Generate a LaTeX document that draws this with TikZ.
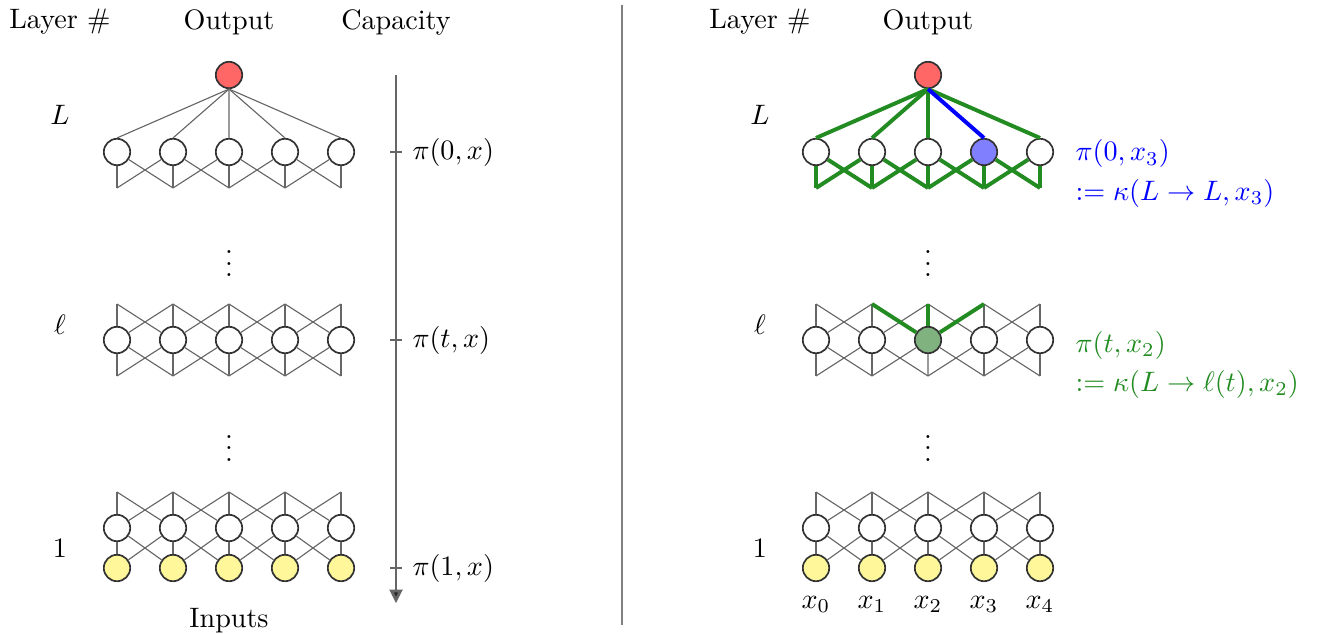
\documentclass[tikz,border=0pt]{standalone}
\usetikzlibrary{arrows.meta}
\definecolor{forest}{RGB}{34,139,34}
\definecolor{pale}{RGB}{255,247,153}
\definecolor{sage}{RGB}{128,178,128}
\tikzset{
  unit/.style={circle, draw=black!80, fill=white, semithick, minimum size=0.33cm, inner sep=0pt},
  link/.style={draw=black!60, thin},
  hot/.style={draw=forest, line width=1.4pt},
}
\begin{document}
\begin{tikzpicture}
  \useasboundingbox (0,0) rectangle (16.55,-7.9125);
  \draw
    (0.75,-0.275) node (lhead){Layer \#}
    (2.8625,-0.275) node (lout){Output}
    (4.95,-0.275) node (lcap){Capacity}
    (0.75,-1.44) node (lL){$L$}
    (0.75,-4.06) node (ll){$\ell$}
    (0.75,-6.85) node (l1){1}
    (2.8625,-3.19) node (ldot1){$\vdots$}
    (2.8625,-5.5) node (ldot2){$\vdots$}
    (2.8625,-7.76) node (lin){Inputs};
  \draw
    (9.5,-0.275) node (rhead){Layer \#}
    (11.6,-0.275) node (rout){Output}
    (9.5,-1.44) node (rL){$L$}
    (9.5,-4.06) node (rl){$\ell$}
    (9.5,-6.85) node (r1){1}
    (11.6,-3.19) node (rdot1){$\vdots$}
    (11.6,-5.5) node (rdot2){$\vdots$};
  \draw[black!50] (7.775,-0.06) -- (7.775,-7.81);

  \node[unit, fill=red!60] (lO) at (2.8625,-0.9375) {};
  \foreach \i in {0,...,4} {
    \node[unit] (lA\i) at ({1.4625+0.7*\i},-1.9) {};
    \node[unit] (lB\i) at ({1.4625+0.7*\i},-4.25) {};
    \node[unit] (lC\i) at ({1.4625+0.7*\i},-6.6) {};
    \node[unit, fill=pale] (lD\i) at ({1.4625+0.7*\i},-7.1) {};
    \coordinate (lAb\i) at ({1.4625+0.7*\i},-2.35);
    \coordinate (lBt\i) at ({1.4625+0.7*\i},-3.8);
    \coordinate (lBb\i) at ({1.4625+0.7*\i},-4.7);
    \coordinate (lCt\i) at ({1.4625+0.7*\i},-6.15);
  }
  \begin{scope}[link]
    \foreach \i in {0,...,4} {
      \draw (lO.south) -- (lA\i.north);
      \draw (lA\i) -- (lAb\i);
      \draw (lB\i) -- (lBt\i);
      \draw (lB\i) -- (lBb\i);
      \draw (lC\i) -- (lCt\i);
      \draw (lC\i) -- (lD\i);
    }
    \foreach \i [count=\j from 1] in {0,...,3} {
      \draw (lA\i) -- (lAb\j);
      \draw (lA\j) -- (lAb\i);
      \draw (lB\i) -- (lBt\j);
      \draw (lB\j) -- (lBt\i);
      \draw (lB\i) -- (lBb\j);
      \draw (lB\j) -- (lBb\i);
      \draw (lC\i) -- (lCt\j);
      \draw (lC\j) -- (lCt\i);
      \draw (lC\i) -- (lD\j);
      \draw (lC\j) -- (lD\i);
    }
  \end{scope}

  \coordinate (ctop) at (4.95,-0.94);
  \coordinate (cbot) at (4.95,-7.54);
  \draw[line width=1pt, black!60, -{Triangle[width=0.16cm, length=0.17cm, fill=black!85]}] (ctop) -- (cbot);
  \foreach \y/\s [count=\k] in {-1.9/0, -4.25/t, -7.1/1} {
    \draw[thick, black!60] (4.875,\y) -- (5.025,\y) node[right, black] (pi\k){$\pi(\s,x)$};
  }

  \node[unit, fill=red!60] (rO) at (11.6,-0.9375) {};
  \foreach \i in {0,...,4} {
    \node[unit] (rC\i) at ({10.2+0.7*\i},-6.6) {};
    \node[unit, fill=pale] (rD\i) at ({10.2+0.7*\i},-7.1) {};
    \node (rx\i) at ({10.2+0.7*\i},-7.56) {$x_\i$};
    \coordinate (rAb\i) at ({10.2+0.7*\i},-2.35);
    \coordinate (rBt\i) at ({10.2+0.7*\i},-3.8);
    \coordinate (rBb\i) at ({10.2+0.7*\i},-4.7);
    \coordinate (rCt\i) at ({10.2+0.7*\i},-6.15);
  }
  \foreach \i in {0,1,2,4} {
    \node[unit] (rA\i) at ({10.2+0.7*\i},-1.9) {};
  }
  \node[unit, fill=blue!50] (rA3) at (12.3,-1.9) {};
  \foreach \i in {0,1,3,4} {
    \node[unit] (rB\i) at ({10.2+0.7*\i},-4.25) {};
  }
  \node[unit, fill=sage] (rB2) at (11.6,-4.25) {};
  \begin{scope}[link]
    \foreach \i in {0,...,4} {
      \draw (rB\i) -- (rBt\i);
      \draw (rB\i) -- (rBb\i);
      \draw (rC\i) -- (rCt\i);
      \draw (rC\i) -- (rD\i);
    }
    \foreach \i [count=\j from 1] in {0,...,3} {
      \draw (rB\i) -- (rBt\j);
      \draw (rB\j) -- (rBt\i);
      \draw (rB\i) -- (rBb\j);
      \draw (rB\j) -- (rBb\i);
      \draw (rC\i) -- (rCt\j);
      \draw (rC\j) -- (rCt\i);
      \draw (rC\i) -- (rD\j);
      \draw (rC\j) -- (rD\i);
    }
  \end{scope}
  \begin{scope}[hot]
    \foreach \i in {0,1,2,4} {
      \draw (rO.south) -- (rA\i.north);
    }
    \draw[blue] (rO.south) -- (rA3.north);
    \foreach \i in {0,...,4} {
      \draw (rA\i) -- (rAb\i);
    }
    \foreach \i [count=\j from 1] in {0,...,3} {
      \draw (rA\i) -- (rAb\j);
      \draw (rA\j) -- (rAb\i);
    }
    \draw (rB2) -- (rBt1);
    \draw (rB2) -- (rBt2);
    \draw (rB2) -- (rBt3);
  \end{scope}

  \node[anchor=west, align=left, blue] (rcap0) at (13.32,-2.17)
    {$\pi(0,x_3)$\\[2pt]$:= \kappa(L \to L, x_3)$};
  \node[anchor=west, align=left, forest] (rcapt) at (13.32,-4.56)
    {$\pi(t,x_2)$\\[2pt]$:= \kappa(L \to \ell(t), x_2)$};
\end{tikzpicture}
\end{document}
